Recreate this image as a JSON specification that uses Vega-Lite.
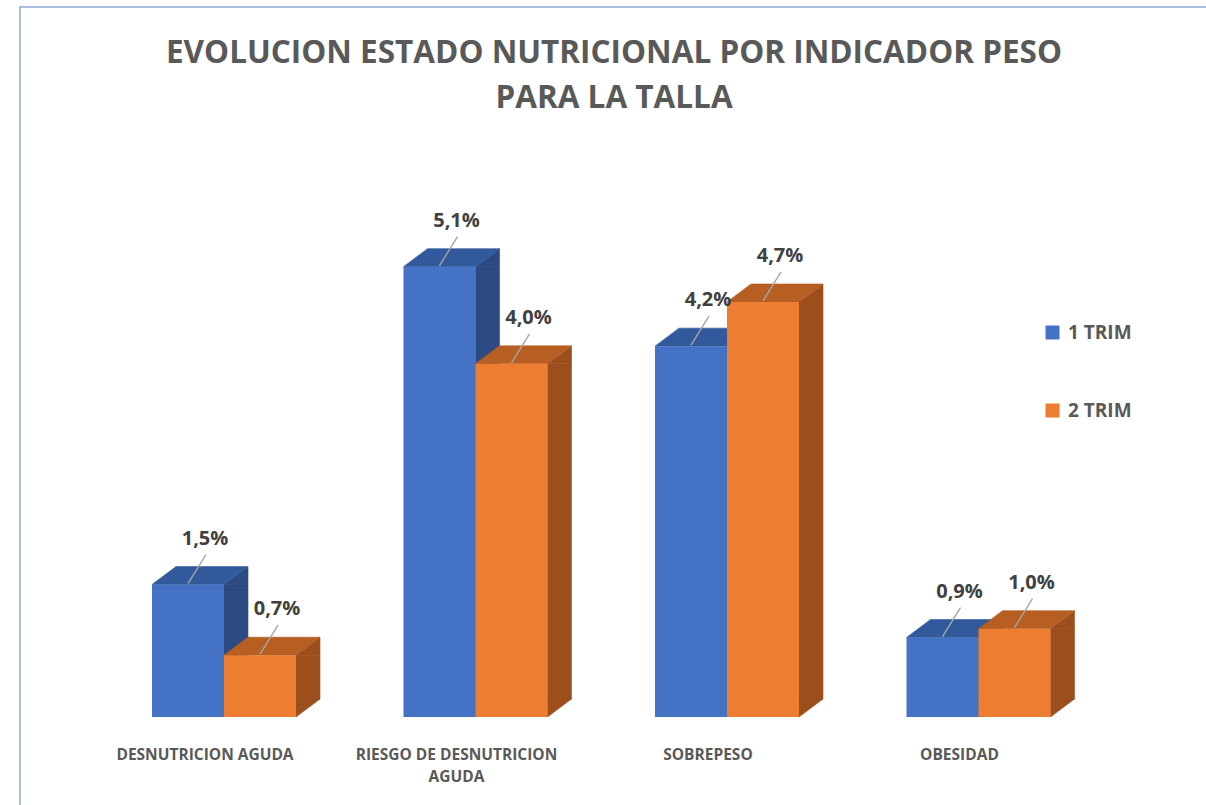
{
  "$schema": "https://vega.github.io/schema/vega-lite/v6.json",
  "width": 1206,
  "height": 805,
  "autosize": {"type": "fit", "contains": "padding"},
  "padding": {"left": 20, "top": 7, "right": -2, "bottom": -2},
  "background": "white",
  "title": {
    "text": ["EVOLUCION ESTADO NUTRICIONAL POR INDICADOR PESO", "PARA LA TALLA"],
    "font": "Open Sans",
    "fontSize": 31.5,
    "fontWeight": "bold",
    "color": "#595959",
    "lineHeight": 45,
    "anchor": "middle",
    "offset": -107
  },
  "data": {
    "values": [
      {"categoria": "DESNUTRICION AGUDA", "serie": "1 TRIM", "valor": 0.015},
      {"categoria": "DESNUTRICION AGUDA", "serie": "2 TRIM", "valor": 0.007},
      {"categoria": "RIESGO DE DESNUTRICION AGUDA", "serie": "1 TRIM", "valor": 0.051},
      {"categoria": "RIESGO DE DESNUTRICION AGUDA", "serie": "2 TRIM", "valor": 0.040},
      {"categoria": "SOBREPESO", "serie": "1 TRIM", "valor": 0.042},
      {"categoria": "SOBREPESO", "serie": "2 TRIM", "valor": 0.047},
      {"categoria": "OBESIDAD", "serie": "1 TRIM", "valor": 0.009},
      {"categoria": "OBESIDAD", "serie": "2 TRIM", "valor": 0.010}
    ]
  },
  "encoding": {
    "x": {
      "field": "categoria",
      "type": "nominal",
      "sort": null,
      "scale": {"paddingInner": 0.427435, "paddingOuter": 0.575547, "align": 0.45594},
      "axis": {
        "title": null,
        "domain": false,
        "ticks": false,
        "grid": false,
        "offset": -90,
        "labelPadding": 30,
        "labelAngle": 0,
        "labelFont": "Open Sans",
        "labelFontSize": 15.5,
        "labelFontWeight": "bold",
        "labelColor": "#595959",
        "labelOffset": -19,
        "labelLineHeight": 22,
        "labelLimit": 400,
        "labelExpr": "datum.label == 'RIESGO DE DESNUTRICION AGUDA' ? ['RIESGO DE DESNUTRICION', 'AGUDA'] : datum.label"
      }
    },
    "y": {
      "field": "valor",
      "type": "quantitative",
      "scale": {"domain": [-0.010193, 0.080408], "nice": false, "zero": false},
      "axis": null
    }
  },
  "layer": [
    {
      "mark": {"type": "bar", "width": 24, "xOffset": {"expr": "datum.serie == '1 TRIM' ? 12 : 84"}, "y2Offset": -18, "strokeWidth": 0.6},
      "encoding": {
        "y2": {"datum": 0},
        "fill": {"condition": {"test": "datum.serie == '1 TRIM'", "value": "#2B4B82"}, "value": "#9C4F1D"},
        "stroke": {"condition": {"test": "datum.serie == '1 TRIM'", "value": "#2B4B82"}, "value": "#9C4F1D"}
      }
    },
    {
      "mark": {"type": "point", "shape": "M36,0L60,-18L60,0Z", "size": 4, "filled": true, "opacity": 1, "strokeWidth": 0.6},
      "encoding": {
        "xOffset": {"field": "serie", "type": "nominal", "sort": null, "scale": {"paddingInner": 0, "paddingOuter": 0}},
        "fill": {"condition": {"test": "datum.serie == '1 TRIM'", "value": "#2B4B82"}, "value": "#9C4F1D"},
        "stroke": {"condition": {"test": "datum.serie == '1 TRIM'", "value": "#2B4B82"}, "value": "#9C4F1D"}
      }
    },
    {
      "mark": {"type": "point", "shape": "M36,-18L36,0L60,-18Z", "size": 4, "filled": true, "opacity": 1, "strokeWidth": 0.6},
      "encoding": {
        "xOffset": {"field": "serie", "type": "nominal", "sort": null, "scale": {"paddingInner": 0, "paddingOuter": 0}},
        "y": {"datum": 0},
        "fill": {"condition": {"test": "datum.serie == '1 TRIM'", "value": "#2B4B82"}, "value": "#9C4F1D"},
        "stroke": {"condition": {"test": "datum.serie == '1 TRIM'", "value": "#2B4B82"}, "value": "#9C4F1D"}
      }
    },
    {
      "mark": {"type": "point", "shape": "M-36,0L36,0L60,-18L-12,-18Z", "size": 4, "filled": true, "opacity": 1, "strokeWidth": 0.6},
      "encoding": {
        "xOffset": {"field": "serie", "type": "nominal", "sort": null, "scale": {"paddingInner": 0, "paddingOuter": 0}},
        "fill": {"condition": {"test": "datum.serie == '1 TRIM'", "value": "#31599C"}, "value": "#B75E22"},
        "stroke": {"condition": {"test": "datum.serie == '1 TRIM'", "value": "#31599C"}, "value": "#B75E22"}
      }
    },
    {
      "mark": {"type": "bar"},
      "encoding": {
        "xOffset": {"field": "serie", "type": "nominal", "sort": null, "scale": {"paddingInner": 0, "paddingOuter": 0}},
        "y2": {"datum": 0},
        "color": {
          "field": "serie",
          "type": "nominal",
          "sort": null,
          "scale": {"domain": ["1 TRIM", "2 TRIM"], "range": ["#4472C4", "#ED7D31"]},
          "legend": {
            "title": null,
            "orient": "none",
            "legendX": 1023,
            "legendY": 316,
            "symbolType": "square",
            "symbolSize": 196,
            "symbolStrokeWidth": 0,
            "labelFont": "Open Sans",
            "labelFontSize": 19,
            "labelFontWeight": "bold",
            "labelColor": "#595959",
            "labelOffset": 6,
            "rowPadding": 58
          }
        }
      }
    },
    {
      "mark": {"type": "point", "shape": "M0,-1L18,-30", "size": 4, "filled": false, "opacity": 1, "stroke": "#A6A6A6", "strokeWidth": 1.4},
      "encoding": {
        "xOffset": {"field": "serie", "type": "nominal", "sort": null, "scale": {"paddingInner": 0, "paddingOuter": 0}}
      }
    },
    {
      "mark": {"type": "text", "dx": 17, "dy": -46, "baseline": "middle", "align": "center", "font": "Open Sans", "fontSize": 20, "fontWeight": "bold", "color": "#404040"},
      "encoding": {
        "xOffset": {"field": "serie", "type": "nominal", "sort": null, "scale": {"paddingInner": 0, "paddingOuter": 0}},
        "text": {"field": "valor", "type": "quantitative", "format": ".1%"}
      }
    }
  ],
  "config": {
    "view": {"stroke": "#8EA9DB", "strokeWidth": 1.5},
    "locale": {"number": {"decimal": ",", "thousands": ".", "grouping": [3], "currency": ["", " €"]}}
  }
}
